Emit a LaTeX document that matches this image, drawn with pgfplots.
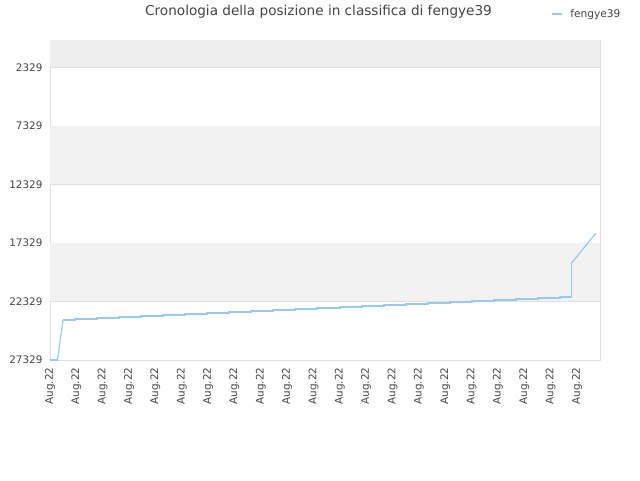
\documentclass[border=0pt]{standalone}
\usepackage{pgfplots}
\pgfplotsset{compat=1.18}
\usepackage{fontspec}
\setmainfont{DejaVu Sans}
\definecolor{txt}{HTML}{444444}
\definecolor{gridc}{HTML}{E0E0E0}
\definecolor{bandA}{HTML}{EDEDED}
\definecolor{bandB}{HTML}{F2F2F2}
\definecolor{serie}{HTML}{99C8F2}
\begin{document}
\begin{tikzpicture}[x=1pt,y=1pt]
\path[use as bounding box] (0,0) rectangle (640,-480);
\node[text=txt, font=\fontsize{13.6}{15}\selectfont] at (318.5,-12) {Cronologia della posizione in classifica di fengye39};
\begin{axis}[
    at={(50pt,-360pt)}, anchor=south west,
    scale only axis,
    width=550pt, height=320pt,
    xmin=0, xmax=20.873,
    ymin=0, ymax=27329,
    y dir=reverse,
    axis line style={draw=gridc},
    xtick={0,...,20},
    xticklabels={Aug.22,Aug.22,Aug.22,Aug.22,Aug.22,Aug.22,Aug.22,Aug.22,Aug.22,Aug.22,Aug.22,Aug.22,Aug.22,Aug.22,Aug.22,Aug.22,Aug.22,Aug.22,Aug.22,Aug.22,Aug.22},
    x tick label style={rotate=90, anchor=east, font=\fontsize{10.4}{12}\selectfont, text=txt},
    xticklabel shift=4pt,
    ytick={2329,7329,12329,17329,22329,27329},
    scaled y ticks=false,
    y tick label style={font=\fontsize{10.4}{12}\selectfont, text=txt},
    yticklabel shift=4pt,
    /pgf/number format/fixed,
    /pgf/number format/1000 sep={},
    /pgf/number format/assume math mode=true,
    major tick length=0pt,
    ymajorgrids,
    grid style={gridc, line width=0.6pt},
    clip=true,
    legend style={at={(rel axis cs:0.911,1.081)}, anchor=west, draw=none, fill=none,
        font=\fontsize{10.6}{12}\selectfont, text=txt, inner sep=0pt},
    legend image code/.code={\draw[#1] (0pt,0pt) -- (10pt,0pt);},
]
% bands
\addplot[fill=bandA, draw=none, forget plot] coordinates {(0,0) (20.873,0) (20.873,2329) (0,2329)} -- cycle;
\addplot[fill=bandB, draw=none, forget plot] coordinates {(0,7329) (20.873,7329) (20.873,12329) (0,12329)} -- cycle;
\addplot[fill=bandB, draw=none, forget plot] coordinates {(0,17329) (20.873,17329) (20.873,22329) (0,22329)} -- cycle;
\addplot[serie, line width=1.2pt, const plot] coordinates {
    (0.000,27329) (0.285,27329)
};
\addplot[serie, line width=1.2pt, forget plot] coordinates {
    (0.285,27329) (0.493,23916)
};
\addplot[serie, line width=1.2pt, const plot, forget plot] coordinates {
    (0.493,23916) (0.949,23831) (1.784,23746) (2.619,23660) (3.454,23575)
    (4.288,23490) (5.123,23404) (5.958,23319) (6.793,23234) (7.628,23148)
    (8.463,23063) (9.298,22978) (10.133,22892) (11.006,22807) (11.841,22722)
    (12.676,22636) (13.510,22551) (14.345,22466) (15.180,22380) (16.015,22295)
    (16.850,22210) (17.685,22124) (18.520,22039) (19.355,21954) (19.795,19052)
};
\addplot[serie, line width=1.2pt, forget plot] coordinates {
    (19.795,19052) (20.717,16492)
};
\legend{\hspace{6pt}fengye39}
\end{axis}
\end{tikzpicture}
\end{document}
